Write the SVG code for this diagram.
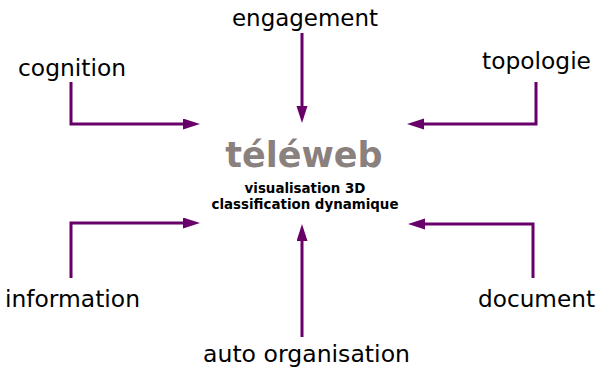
<svg xmlns="http://www.w3.org/2000/svg" width="601" height="372" viewBox="0 0 601 372">
<style>
.lbl{font-family:"DejaVu Sans",sans-serif;font-size:23px;fill:#000}
.title{font-family:"DejaVu Sans",sans-serif;font-weight:bold;font-size:35px;fill:#8a817f}
.sub{font-family:"DejaVu Sans",sans-serif;font-weight:bold;font-size:13.4px;fill:#000}
.conn{fill:none;stroke:#690069;stroke-width:3;marker-end:url(#ah)}
</style>
<defs>
<marker id="ah" markerUnits="userSpaceOnUse" markerWidth="20" markerHeight="12" refX="3" refY="5.5" orient="auto">
<path d="M0,0 L17,5.5 L0,11 z" fill="#690069"/>
</marker>
</defs>
<rect width="601" height="372" fill="#fff"/>
<g id="connectors">
<path class="conn" d="M71,82 V124 H186"/>
<path class="conn" d="M536,82 V124 H421"/>
<path class="conn" d="M71,278 V223 H186"/>
<path class="conn" d="M533,278 V224 H422"/>
<path class="conn" d="M302,33 V109"/>
<path class="conn" d="M302,337 V238"/>
</g>
<g id="center">
<text class="title" x="304" y="167" text-anchor="middle">téléweb</text>
<text class="sub" x="305" y="193" text-anchor="middle">visualisation 3D</text>
<text class="sub" x="305" y="209" text-anchor="middle">classification dynamique</text>
</g>
<g id="engagement"><text class="lbl" x="232" y="26" textLength="146" lengthAdjust="spacingAndGlyphs">engagement</text></g>
<g id="cognition"><text class="lbl" x="18" y="76" textLength="108" lengthAdjust="spacingAndGlyphs">cognition</text></g>
<g id="topologie"><text class="lbl" x="482" y="69" textLength="109" lengthAdjust="spacingAndGlyphs">topologie</text></g>
<g id="information"><text class="lbl" x="5" y="307" textLength="135" lengthAdjust="spacingAndGlyphs">information</text></g>
<g id="document"><text class="lbl" x="478" y="307" textLength="117" lengthAdjust="spacingAndGlyphs">document</text></g>
<g id="auto_organisation"><text class="lbl" x="203" y="362" textLength="207" lengthAdjust="spacingAndGlyphs">auto organisation</text></g>
</svg>
